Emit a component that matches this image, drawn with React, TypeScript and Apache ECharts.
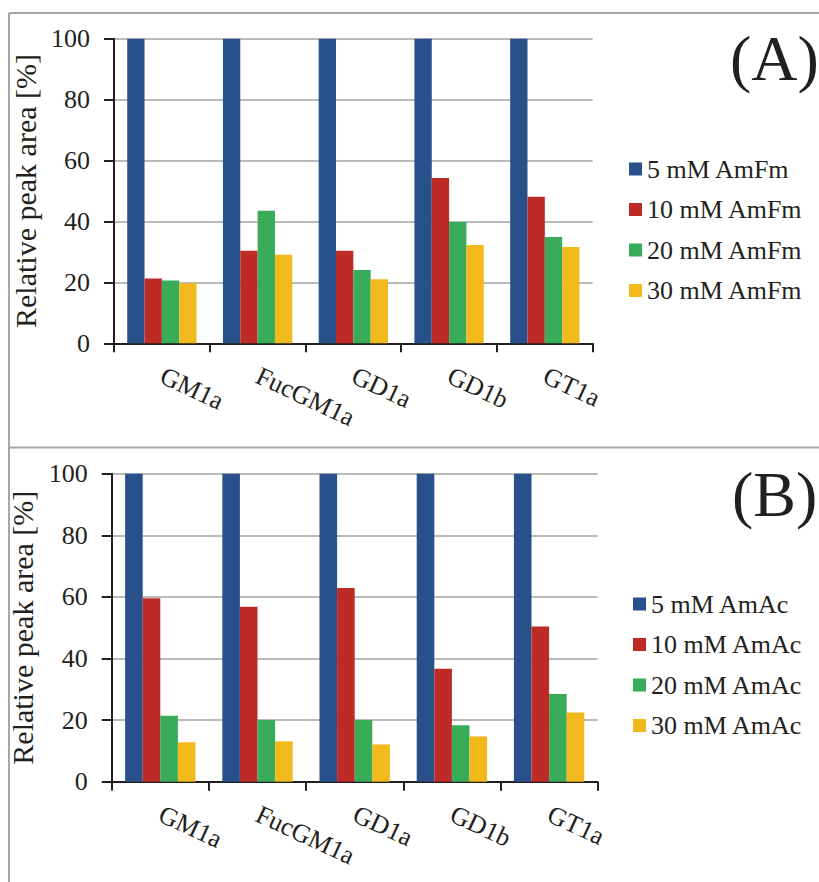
import React, { useEffect, useRef } from "react";
import * as echarts from "echarts";

const categories = ["GM1a", "FucGM1a", "GD1a", "GD1b", "GT1a"];

const amfmNames = ["5 mM AmFm", "10 mM AmFm", "20 mM AmFm", "30 mM AmFm"];
const amfm5 = [100, 100, 100, 100, 100];
const amfm10 = [21.3, 30.4, 30.4, 54.3, 48.1];
const amfm20 = [20.6, 43.5, 24.1, 39.8, 34.9];
const amfm30 = [19.7, 29.1, 21.0, 32.3, 31.6];

const amacNames = ["5 mM AmAc", "10 mM AmAc", "20 mM AmAc", "30 mM AmAc"];
const amac5 = [100, 100, 100, 100, 100];
const amac10 = [59.6, 56.8, 62.9, 36.7, 50.4];
const amac20 = [21.4, 20.0, 20.0, 18.3, 28.5];
const amac30 = [12.8, 13.1, 12.1, 14.7, 22.5];

const yMin = 0;
const yMax = 100;
const yStep = 20;
const yName = "Relative peak area [%]";
const panelLabels = ["(A)", "(B)"];

const colors = ["#28508a", "#be2b27", "#38ac58", "#f1b91b"];
const FONT = "serif";
const TXT = "#231f20";

export default function App() {
  const ref = useRef<HTMLDivElement>(null);
  useEffect(() => {
    if (!ref.current) return;
    const chart = echarts.init(ref.current, null, { renderer: "svg" });

    const makeX = (gi: number) => ({
      type: "category",
      gridIndex: gi,
      data: categories,
      axisLine: { show: true, lineStyle: { color: TXT, width: 2 } },
      axisTick: { show: true, length: 9, lineStyle: { color: TXT, width: 2 } },
      axisLabel: {
        interval: 0,
        rotate: -25,
        margin: 31,
        fontFamily: FONT,
        fontSize: 26,
        color: TXT,
      },
    });
    const makeY = (gi: number, gap: number) => ({
      type: "value",
      gridIndex: gi,
      min: yMin,
      max: yMax,
      interval: yStep,
      name: yName,
      nameLocation: "middle",
      nameGap: gap,
      nameTextStyle: { fontFamily: FONT, fontSize: 30, color: TXT },
      axisLine: { show: true, lineStyle: { color: TXT, width: 2 } },
      axisTick: { show: true, length: 10, lineStyle: { color: TXT, width: 2 } },
      axisLabel: { margin: 24, fontFamily: FONT, fontSize: 26, color: TXT },
      splitLine: { show: true, lineStyle: { color: "#a3a3a3", width: 1.5 } },
    });

    const groups = [
      { names: amfmNames, data: [amfm5, amfm10, amfm20, amfm30] },
      { names: amacNames, data: [amac5, amac10, amac20, amac30] },
    ];
    const series: any[] = [];
    groups.forEach((g, gi) => {
      g.names.forEach((n, i) => {
        series.push({
          type: "bar",
          name: n,
          xAxisIndex: gi,
          yAxisIndex: gi,
          data: g.data[i],
          barGap: "0%",
          barCategoryGap: "27.6%",
          itemStyle: { color: colors[i] },
        });
      });
    });

    const legendBase = {
      orient: "vertical",
      icon: "rect",
      itemWidth: 13,
      itemHeight: 13,
      itemGap: 14.5,
      textStyle: { fontFamily: FONT, fontSize: 26, color: TXT },
    };

    const border = { stroke: "#a6a6a6", lineWidth: 2 };

    chart.setOption({
      animation: false,
      backgroundColor: "#ffffff",
      color: colors,
      grid: [
        { left: 114, top: 38.7, width: 478.7, height: 304.6, outerBoundsMode: "none", containLabel: false },
        { left: 111.7, top: 473.7, width: 486, height: 308, outerBoundsMode: "none", containLabel: false },
      ],
      xAxis: [makeX(0), makeX(1)],
      yAxis: [makeY(0, 71), makeY(1, 69)],
      legend: [
        { ...legendBase, data: amfmNames, left: 624, top: 151 },
        { ...legendBase, data: amacNames, left: 628, top: 586 },
      ],
      series,
      graphic: [
        { type: "line", shape: { x1: 9, y1: 13, x2: 830, y2: 13 }, style: border, silent: true },
        { type: "line", shape: { x1: 9, y1: 13, x2: 9, y2: 890 }, style: border, silent: true },
        { type: "line", shape: { x1: 9, y1: 447.5, x2: 830, y2: 447.5 }, style: border, silent: true },
        {
          type: "text",
          x: 730,
          y: 58,
          style: { text: panelLabels[0], fontFamily: FONT, fontSize: 64, fill: TXT, verticalAlign: "middle" },
        },
        {
          type: "text",
          x: 732,
          y: 494,
          style: { text: panelLabels[1], fontFamily: FONT, fontSize: 64, fill: TXT, verticalAlign: "middle" },
        },
      ],
    });
    return () => chart.dispose();
  }, []);
  return (
    <div
      ref={ref}
      style={{ position: "fixed", left: 0, top: 0, width: 819, height: 882, background: "#fff" }}
    />
  );
}
